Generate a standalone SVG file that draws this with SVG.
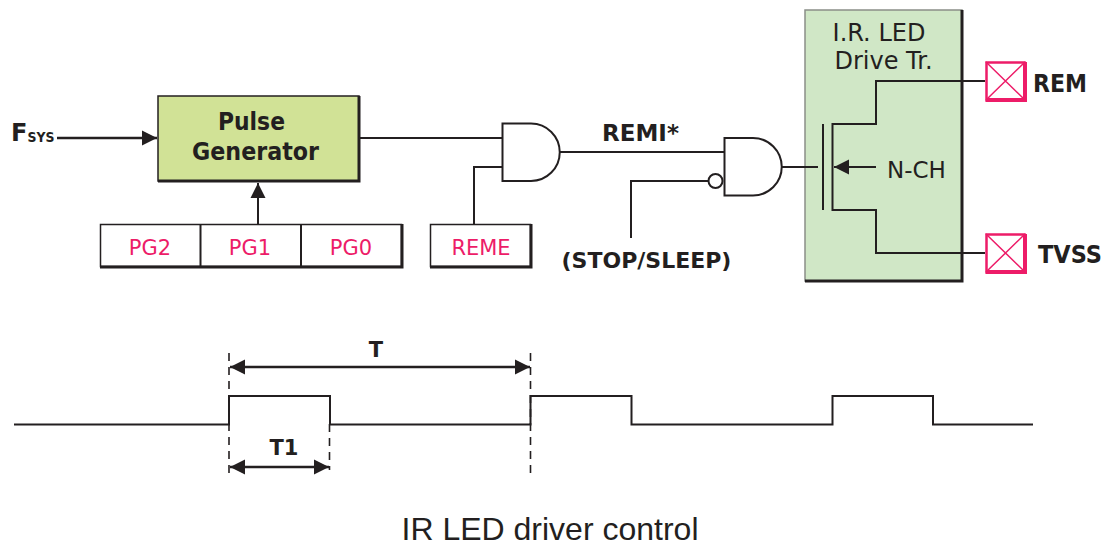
<svg xmlns="http://www.w3.org/2000/svg" width="1109" height="547" viewBox="0 0 1109 547">
<style>
text{font-family:"DejaVu Sans",Verdana,sans-serif;fill:#231f20}
.b{font-weight:bold}
.p{fill:#ed1c68;font-size:21px;text-anchor:middle}
.l{fill:none;stroke:#231f20;stroke-width:2}
.t{fill:none;stroke:#231f20;stroke-width:2.4}
.d{fill:none;stroke:#231f20;stroke-width:1.6;stroke-dasharray:8 6}
.box{fill:#fff;stroke:#231f20;stroke-width:1.5}
.sh{fill:none;stroke:#231f20;stroke-width:3}
.pad{fill:#fff;stroke:#ed1c68;stroke-width:2.5}
.padsh{fill:none;stroke:#ed1c68;stroke-width:4}
.x{stroke:#ed1c68;stroke-width:1.5;fill:none}
.gate{fill:#fff;stroke:#231f20;stroke-width:2}
</style>
<defs>
<marker id="a" markerUnits="userSpaceOnUse" markerWidth="16" markerHeight="16" refX="15" refY="8" orient="auto-start-reverse"><path d="M0 0.5L15 8L0 15.5Z" fill="#231f20"/></marker>
</defs>
<g id="ir-led-drive">
<rect x="805" y="10" width="157" height="271" fill="#d0e7c6" stroke="#8a8f88" stroke-width="1.5"/>
<path class="sh" d="M962 10V281H805"/>
<text x="879" y="41" font-size="24" text-anchor="middle">I.R. LED</text>
<text x="883.500" y="69" font-size="24" text-anchor="middle">Drive Tr.</text>
<text x="887" y="178" font-size="23">N-CH</text>
</g>
<g id="connectors">
<path class="t" d="M57 138H157" marker-end="url(#a)"/>
<path class="l" d="M258 224V183" marker-end="url(#a)"/>
<path class="l" d="M360 138H502"/>
<path class="l" d="M474 224V167H502"/>
<path class="l" d="M560 152H724"/>
<path class="l" d="M631 238V181H708"/>
<path class="l" d="M782 167H818"/>
<path class="l" d="M823 124V210"/>
<path class="l" d="M985 81H876V124H832.500V210H876V253H985"/>
<path class="l" d="M876 167H834" marker-end="url(#a)"/>
</g>
<g id="pulse-generator">
<rect x="158" y="96" width="201" height="85" fill="#d1e296" stroke="#231f20" stroke-width="1.500"/>
<path class="sh" d="M359 96V181H158"/>
<text class="b" x="218" y="130" font-size="24" textLength="67" lengthAdjust="spacingAndGlyphs">Pulse</text>
<text class="b" x="192" y="160" font-size="24" textLength="127" lengthAdjust="spacingAndGlyphs">Generator</text>
</g>
<g id="fsys"><text class="b" x="11" y="141" font-size="24">F<tspan font-size="14" dy="1" textLength="27" lengthAdjust="spacingAndGlyphs">SYS</tspan></text></g>
<g id="pg-register">
<rect class="box" x="100.500" y="224.500" width="301" height="42"/>
<path class="sh" d="M402 224V267H100"/>
<path class="l" d="M200.500 224V267M301 224V267"/>
<text class="p" x="150" y="255">PG2</text>
<text class="p" x="250" y="255">PG1</text>
<text class="p" x="351" y="255">PG0</text>
</g>
<g id="reme">
<rect class="box" x="430.500" y="224.500" width="100" height="42"/>
<path class="sh" d="M531 224V267H430"/>
<text class="p" x="481" y="255">REME</text>
</g>
<g id="and-gate-1"><path class="gate" d="M502.500 123.500H531A28.750 28.750 0 0 1 531 181H502.500Z"/></g>
<g id="and-gate-2"><path class="gate" d="M724.500 138H753A28.750 28.750 0 0 1 753 195.500H724.500Z"/><circle class="gate" cx="715.500" cy="181" r="7"/></g>
<g id="labels">
<text class="b" x="640.500" y="141" font-size="23" text-anchor="middle">REMI*</text>
<text class="b" x="646.500" y="268" font-size="22" text-anchor="middle">(STOP/SLEEP)</text>
</g>
<g id="rem-pad">
<rect class="pad" x="986.500" y="62.500" width="38" height="38"/>
<path class="padsh" d="M1025 62V100H986"/>
<path class="x" d="M986 62L1025 100M1025 62L986 100"/>
<text class="b" x="1033" y="92" font-size="24" textLength="54" lengthAdjust="spacingAndGlyphs">REM</text>
</g>
<g id="tvss-pad">
<rect class="pad" x="986.500" y="234.500" width="38" height="38"/>
<path class="padsh" d="M1025 234V272H986"/>
<path class="x" d="M986 234L1025 272M1025 234L986 272"/>
<text class="b" x="1038" y="263" font-size="24" textLength="64" lengthAdjust="spacingAndGlyphs">TVSS</text>
</g>
<g id="waveform">
<path class="l" d="M14 424.500H229V396H330V424.500H530.500V396H631.500V424.500H832.500V396H933V424.500H1033"/>
<path class="d" d="M229 353V479M530.500 353V479M329.500 424V470"/>
<path class="t" d="M230 367H530" marker-start="url(#a)" marker-end="url(#a)"/>
<path class="t" d="M230 467H329" marker-start="url(#a)" marker-end="url(#a)"/>
<text class="b" x="376" y="357" font-size="21" text-anchor="middle">T</text>
<text class="b" x="284" y="455" font-size="21" text-anchor="middle">T1</text>
</g>
<text x="550" y="540" font-size="32" text-anchor="middle" style="font-family:'Liberation Sans',Arial,sans-serif">IR LED driver control</text>
</svg>
